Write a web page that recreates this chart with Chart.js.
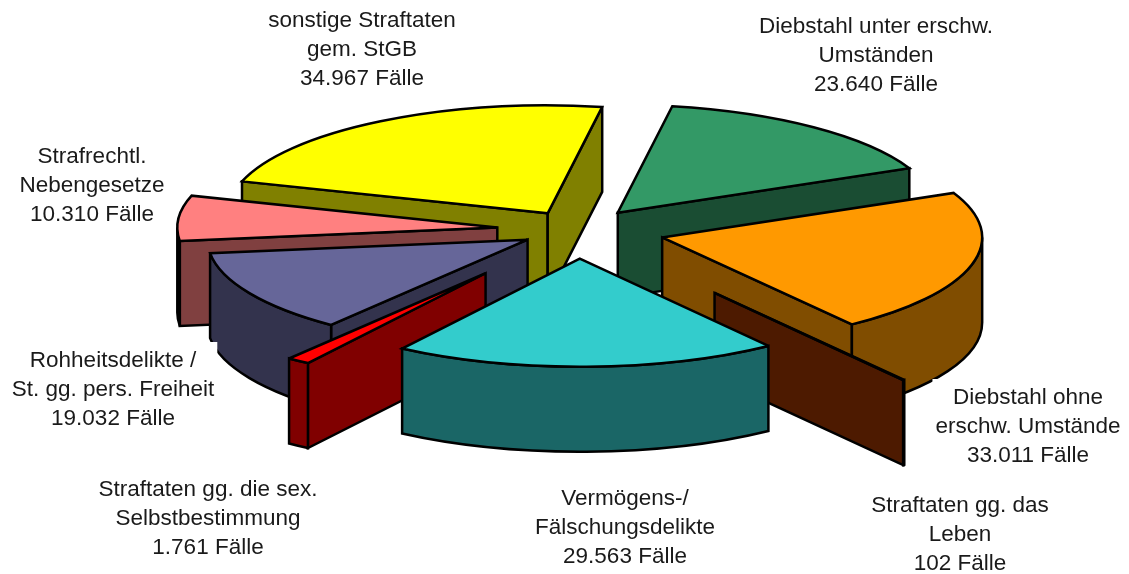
<!DOCTYPE html>
<html lang="de">
<head>
<meta charset="utf-8">
<title>Straftaten</title>
<style>
    html, body { margin: 0; padding: 0; background: #fff; overflow: hidden; }
    canvas { display: block; }
</style>
<script src="https://cdn.jsdelivr.net/npm/chart.js@4/dist/chart.umd.min.js"></script>
</head>
<body>
<canvas id="pieChart" width="1129" height="574"></canvas>
<script>
// Chart data
const categories = [
    ['sonstige Straftaten', 'gem. StGB'],
    ['Diebstahl unter erschw.', 'Umständen'],
    ['Diebstahl ohne', 'erschw. Umstände'],
    ['Straftaten gg. das', 'Leben'],
    ['Vermögens-/', 'Fälschungsdelikte'],
    ['Straftaten gg. die sex.', 'Selbstbestimmung'],
    ['Rohheitsdelikte /', 'St. gg. pers. Freiheit'],
    ['Strafrechtl.', 'Nebengesetze']
];
const cases = [34967, 23640, 33011, 102, 29563, 1761, 19032, 10310];
const sliceColors = ['#FFFF00', '#339966', '#FF9900', '#993300', '#33CCCC', '#FF0000', '#666699', '#FF8080'];
const explode = [58, 65, 87, 231, 85, 158, 58, 81];

// Back to front
const drawOrder = [0, 1, 7, 2, 6, 3, 5, 4];

// Label layout: centre x, first line y
const labelPos = [[362, 21], [876, 27], [1028, 398], [960, 506], [625, 499], [208, 490], [113, 361], [92, 157]];

const TILT = 0.3375;
const DEPTH = 85;

function formatCases(n) {
    return String(n).replace(/\B(?=(\d{3})+$)/g, '.') + ' Fälle';
}

function darken(hex) {
    const n = parseInt(hex.slice(1), 16);
    const half = v => Math.round(v / 2);
    return `rgb(${half(n >> 16 & 255)}, ${half(n >> 8 & 255)}, ${half(n & 255)})`;
}

function fillAndStroke(ctx, fill) {
    ctx.closePath();
    ctx.fillStyle = fill;
    ctx.fill();
    ctx.stroke();
}

// Radial side face of a slice
function drawRadialFace(ctx, px, py, r, angle, color) {
    const rx = px + Math.cos(angle) * r;
    const ry = py + Math.sin(angle) * r * TILT;
    ctx.beginPath();
    ctx.moveTo(px, py);
    ctx.lineTo(rx, ry);
    ctx.lineTo(rx, ry + DEPTH);
    ctx.lineTo(px, py + DEPTH);
    fillAndStroke(ctx, color);
}

// Outer wall, only the front half of the rim shows
function drawRimWall(ctx, px, py, r, start, end, color) {
    for (let n = -1; n <= 2; n++) {
        const lo = Math.max(start, n * 2 * Math.PI);
        const hi = Math.min(end, n * 2 * Math.PI + Math.PI);
        if (hi <= lo) continue;
        ctx.beginPath();
        ctx.ellipse(px, py, r, r * TILT, 0, lo, hi);
        ctx.ellipse(px, py + DEPTH, r, r * TILT, 0, hi, lo, true);
        fillAndStroke(ctx, color);
    }
}

function drawSlice(ctx, arc) {
    const start = arc.startAngle;
    const end = arc.endAngle;
    const mid = (start + end) / 2;
    const r = arc.outerRadius;
    const px = arc.x + Math.cos(mid) * arc.options.offset;
    const py = arc.y + Math.sin(mid) * arc.options.offset * TILT;
    const wall = darken(arc.options.backgroundColor);

    ctx.lineWidth = arc.options.borderWidth;
    ctx.strokeStyle = arc.options.borderColor;
    ctx.lineJoin = 'miter';
    ctx.miterLimit = 3;

    if (Math.cos(start) < 0) drawRadialFace(ctx, px, py, r, start, wall);
    if (Math.cos(end) > 0) drawRadialFace(ctx, px, py, r, end, wall);
    drawRimWall(ctx, px, py, r, start, end, wall);

    ctx.beginPath();
    ctx.moveTo(px, py);
    ctx.ellipse(px, py, r, r * TILT, 0, start, end);
    fillAndStroke(ctx, arc.options.backgroundColor);
}

// Paints the library's arcs as a tilted, extruded pie
const tiltedPie = {
    id: 'tiltedPie',
    beforeDatasetDraw(chart, args) {
        const arcs = args.meta.data;
        drawOrder.forEach(i => drawSlice(chart.ctx, arcs[i]));
        return false;
    },
    afterDatasetsDraw(chart) {
        const ctx = chart.ctx;
        const lineHeight = 29;
        ctx.save();
        ctx.font = '22.5px "Liberation Sans", Arial, sans-serif';
        ctx.textAlign = 'center';
        ctx.textBaseline = 'middle';
        categories.forEach((lines, i) => {
            const all = lines.concat(formatCases(cases[i]));
            const [x, y] = labelPos[i];
            const w = Math.max(...all.map(t => ctx.measureText(t).width));
            // labels sit on white boxes that cut into the pie
            ctx.fillStyle = '#fff';
            ctx.fillRect(x - w / 2 - 3, y - 19, w + 6, lineHeight * all.length + 9);
            ctx.fillStyle = '#1a1a1a';
            all.forEach((t, j) => ctx.fillText(t, x, y + j * lineHeight));
        });
        ctx.restore();
    }
};

document.addEventListener('DOMContentLoaded', function() {
    new Chart(document.getElementById('pieChart'), {
        type: 'pie',
        data: {
            labels: categories.map(c => c.join(' ')),
            datasets: [{
                data: cases,
                backgroundColor: sliceColors,
                offset: explode,
                borderColor: '#000',
                borderWidth: 2.5
            }]
        },
        options: {
            responsive: false,
            animation: false,
            radius: 320,
            rotation: -72.8,
            layout: { padding: { left: 27, bottom: 114 } },
            plugins: {
                legend: { display: false },
                tooltip: { enabled: false }
            }
        },
        plugins: [tiltedPie]
    });
});
</script>
</body>
</html>
